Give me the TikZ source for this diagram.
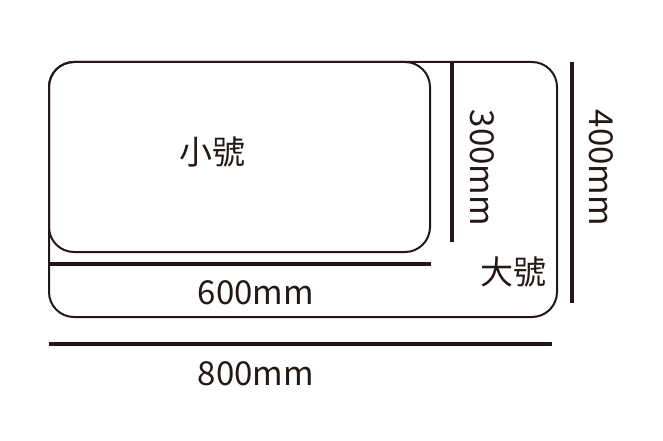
\documentclass[tikz,border=0pt]{standalone}
\usepackage{fontspec}
\setmainfont{Noto Sans CJK TC}
\definecolor{ink}{HTML}{231815}
\tikzstyle{tray} = [draw=ink,line width=2pt,rounded corners=25pt]
\tikzstyle{dim} = [draw=ink,line width=4pt]
\tikzstyle{label} = [text=ink,inner sep=0pt,font=\fontsize{33}{33}\selectfont]

\begin{document}
\begin{tikzpicture}[x=1pt,y=-1pt]
\useasboundingbox (0,0) rectangle (663,441);

\draw[tray] (49,62) rectangle (557,317);
\draw[tray] (49,62) rectangle (430,252);

\coordinate (w6a) at (49,264);
\coordinate (w6b) at (431,264);
\coordinate (h3a) at (452,62);
\coordinate (h3b) at (452,242);
\coordinate (h4a) at (572,62);
\coordinate (h4b) at (572,303);
\coordinate (w8a) at (49,344);
\coordinate (w8b) at (552,344);

\draw[dim] (w6a) -- (w6b);
\draw[dim] (h3a) -- (h3b);
\draw[dim] (h4a) -- (h4b);
\draw[dim] (w8a) -- (w8b);

\node[label] (small) at (212,152) {小號};
\node[label] (large) at (513,272) {大號};
\node[label] (w6) at (256,293) {600mm};
\node[label] (w8) at (256,374) {800mm};
\node[label,rotate=-90] (h3) at (482,168) {300mm};
\node[label,rotate=-90] (h4) at (601,168) {400mm};

\end{tikzpicture}
\end{document}
